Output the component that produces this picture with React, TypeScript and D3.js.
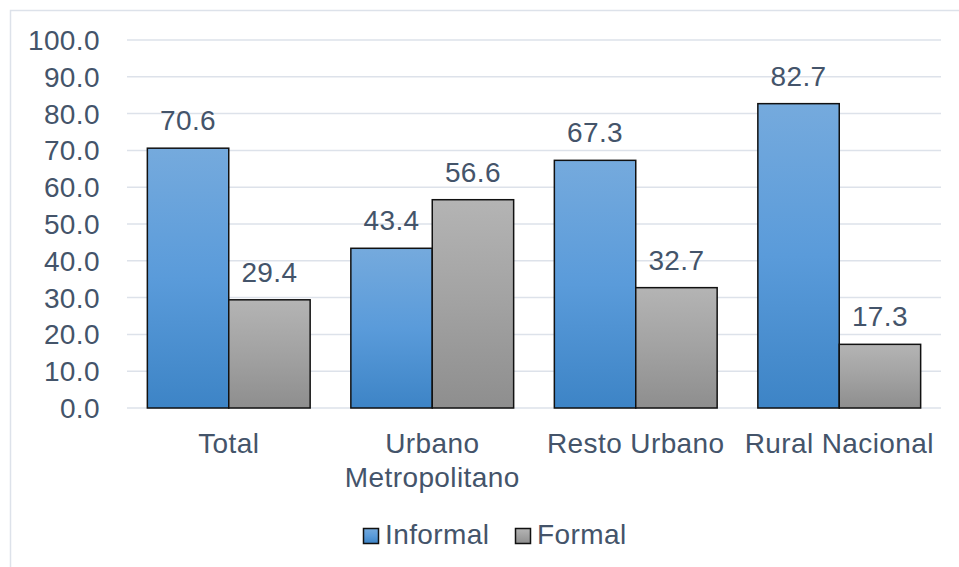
import React, { useEffect, useRef } from 'react'
import * as d3 from 'd3'

// categories + series
const categories = ['Total', 'Urbano Metropolitano', 'Resto Urbano', 'Rural Nacional']
const categoryLines = [['Total'], ['Urbano', 'Metropolitano'], ['Resto Urbano'], ['Rural Nacional']]
const seriesNames = ['Informal', 'Formal']
const informal = [70.6, 43.4, 67.3, 82.7]
const formal = [29.4, 56.6, 32.7, 17.3]
const yTicks = [0, 10, 20, 30, 40, 50, 60, 70, 80, 90, 100]

const TEXT = '#44546A'
const FONT = 'Arial, "Liberation Sans", sans-serif'

export default function App() {
  const ref = useRef<SVGSVGElement>(null)

  useEffect(() => {
    const svg = d3.select(ref.current)
    svg.selectAll('*').remove()

    const width = 959, height = 567
    const margin = { top: 40, right: 18, bottom: 159, left: 127 }
    const plotW = width - margin.left - margin.right
    const plotH = height - margin.top - margin.bottom

    const txt = (sel: any) => sel.attr('fill', TEXT)
      .style('font-family', FONT).style('font-size', '28px').style('letter-spacing', '0.4px')

    // gradients
    const defs = svg.append('defs')
    const grads = [
      { id: 'gBlue', stops: ['#75AADD', '#5A9BDA', '#3D84C6'] },
      { id: 'gGray', stops: ['#B4B4B4', '#A2A2A2', '#8E8E8E'] },
    ]
    grads.forEach(g => {
      const lg = defs.append('linearGradient').attr('id', g.id)
        .attr('x1', 0).attr('y1', 0).attr('x2', 0).attr('y2', 1)
      g.stops.forEach((c, i) => lg.append('stop').attr('offset', i / 2).attr('stop-color', c))
    })
    const fills = ['url(#gBlue)', 'url(#gGray)']

    // frame (right / bottom edges are cut off in the original)
    svg.append('path')
      .attr('d', `M10.5,${height} V10.5 H${width}`)
      .attr('fill', 'none').attr('stroke', '#DDE2EA').attr('stroke-width', 1.5)

    const g = svg.append('g').attr('transform', `translate(${margin.left},${margin.top})`)

    const x = d3.scaleBand().domain(categories).range([0, plotW]).paddingInner(0.2).paddingOuter(0.1)
    const x1 = d3.scaleBand().domain(seriesNames).range([0, x.bandwidth()])
    const y = d3.scaleLinear().domain([0, 100]).range([plotH, 0])

    // gridlines
    g.selectAll('.grid').data(yTicks).enter().append('line')
      .attr('x1', 0).attr('x2', plotW)
      .attr('y1', d => y(d)).attr('y2', d => y(d))
      .attr('stroke', '#DDE2EA').attr('stroke-width', 1.5)

    // y labels
    g.selectAll('.ytick').data(yTicks).enter().append('text')
      .attr('x', -27).attr('y', d => y(d)).attr('dy', '0.36em')
      .attr('text-anchor', 'end')
      .call(txt)
      .text(d => d3.format('.1f')(d))

    const series = [informal, formal]
    series.forEach((vals, si) => {
      const grp = g.append('g')
      grp.selectAll('rect').data(vals).enter().append('rect')
        .attr('x', (d, i) => (x(categories[i]) || 0) + (x1(seriesNames[si]) || 0))
        .attr('y', d => y(d))
        .attr('width', x1.bandwidth())
        .attr('height', d => plotH - y(d))
        .attr('fill', fills[si])
        .attr('stroke', '#111').attr('stroke-width', 1.5)

      grp.selectAll('text').data(vals).enter().append('text')
        .attr('x', (d, i) => (x(categories[i]) || 0) + (x1(seriesNames[si]) || 0) + x1.bandwidth() / 2)
        .attr('y', d => y(d) - 18)
        .attr('text-anchor', 'middle')
        .call(txt)
        .text(d => d3.format('.1f')(d))
    })

    // category labels
    categories.forEach((c, i) => {
      const t = g.append('text')
        .attr('x', (x(c) || 0) + x.bandwidth() / 2)
        .attr('y', plotH + 45)
        .attr('text-anchor', 'middle')
        .call(txt)
      categoryLines[i].forEach((ln, li) => {
        t.append('tspan').attr('x', (x(c) || 0) + x.bandwidth() / 2)
          .attr('dy', li === 0 ? 0 : 34).text(ln)
      })
    })

    // legend
    const legendX = [363, 515]
    seriesNames.forEach((s, i) => {
      svg.append('rect')
        .attr('x', legendX[i] + 0.5).attr('y', 528.5).attr('width', 15).attr('height', 15)
        .attr('fill', fills[i]).attr('stroke', '#111').attr('stroke-width', 1.5)
      svg.append('text')
        .attr('x', legendX[i] + 22).attr('y', 544)
        .call(txt)
        .text(s)
    })
  }, [])

  return (
    <div style={{ position: 'absolute', left: 0, top: 0 }}>
      <svg ref={ref} width={959} height={567} style={{ display: 'block', background: '#fff' }} />
    </div>
  )
}
